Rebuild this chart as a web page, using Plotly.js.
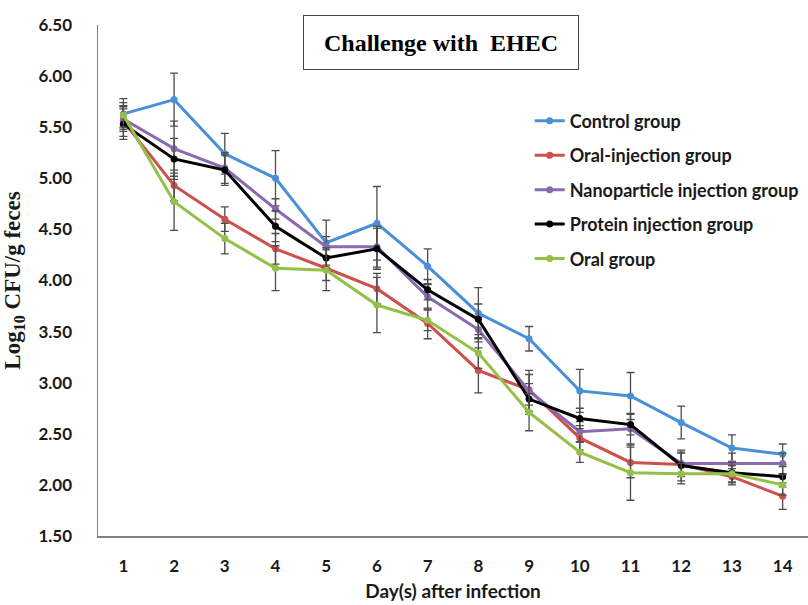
<!DOCTYPE html>
<html>
<head>
<meta charset="utf-8">
<script src="https://cdn.plot.ly/plotly-3.0.1.min.js"></script>
<style>html,body{margin:0;padding:0;background:#fff;}#chart{width:808px;height:605px;}</style>
</head>
<body>
<div id="chart"></div>
<script>
const days = [1,2,3,4,5,6,7,8,9,10,11,12,13,14];
const seriesNames = ["Control group","Oral-injection group","Nanoparticle injection group","Protein injection group","Oral group"];
const controlVals = [5.63,5.77,5.24,5.00,4.37,4.56,4.14,3.68,3.43,2.92,2.87,2.61,2.36,2.30];
const controlErr  = [0.15,0.26,0.20,0.27,0.22,0.36,0.17,0.25,0.12,0.21,0.23,0.16,0.13,0.10];
const oralInjVals = [5.56,4.93,4.60,4.31,4.12,3.92,3.58,3.12,2.93,2.46,2.22,2.20,2.08,1.89];
const oralInjErr  = [0.15,0.15,0.12,0.15,0.12,0.15,0.15,0.22,0.15,0.12,0.15,0.12,0.08,0.13];
const nanoVals    = [5.58,5.29,5.10,4.70,4.33,4.33,3.84,3.52,2.92,2.52,2.55,2.21,2.21,2.21];
const nanoErr     = [0.12,0.27,0.15,0.10,0.10,0.20,0.12,0.12,0.20,0.10,0.15,0.10,0.10,0.10];
const proteinVals = [5.53,5.19,5.08,4.53,4.22,4.31,3.91,3.62,2.84,2.65,2.59,2.19,2.12,2.08];
const proteinErr  = [0.15,0.20,0.15,0.15,0.10,0.20,0.10,0.15,0.15,0.10,0.10,0.15,0.10,0.10];
const oralVals    = [5.62,4.77,4.41,4.12,4.10,3.76,3.61,3.29,2.71,2.32,2.12,2.11,2.11,2.00];
const oralErr     = [0.12,0.28,0.15,0.22,0.20,0.27,0.10,0.15,0.18,0.10,0.27,0.10,0.08,0.10];
const yTicks = [1.5,2.0,2.5,3.0,3.5,4.0,4.5,5.0,5.5,6.0,6.5];

const colors = ["#4A8FD8","#CF4F4C","#8A6AAF","#000000","#93C047"];
const valsList = [controlVals,oralInjVals,nanoVals,proteinVals,oralVals];
const errList = [controlErr,oralInjErr,nanoErr,proteinErr,oralErr];

const traces = seriesNames.map((name,i)=>({
  type:'scatter', mode:'lines+markers', name:name,
  x:days, y:valsList[i],
  legendgroup:'g'+i,
  line:{color:colors[i], width:3},
  marker:{color:colors[i], size:7, symbol:'circle'},
  error_y:{type:'data', array:errList[i], visible:true, color:'#4d4d4d', thickness:1.3, width:4}
}));

const layout = {
  width:808, height:605,
  margin:{l:98, r:0, t:25, b:69},
  paper_bgcolor:'#fff', plot_bgcolor:'#fff',
  font:{family:'Lato, sans-serif', color:'#1a1a1a'},
  showlegend:true,
  legend:{x:0.608, xanchor:'left', y:0.848, yanchor:'top', traceorder:'grouped', tracegroupgap:8,
    font:{family:'Lato, sans-serif', size:18, weight:'bold', color:'#1a1a1a'}, bgcolor:'rgba(0,0,0,0)', itemwidth:30},
  xaxis:{range:[0.5,14.5], tickvals:days, ticktext:days.map(String), showgrid:false, zeroline:false,
    showline:true, linecolor:'#808080', linewidth:1.5, ticks:'', ticklabelstandoff:14,
    tickfont:{family:'Lato, sans-serif', size:17, weight:'bold', color:'#1a1a1a'},
    title:{text:'Day(s) after infection', standoff:10, font:{family:'Lato, sans-serif', size:19, weight:'bold', color:'#1a1a1a'}}},
  yaxis:{range:[1.5,6.5], tickvals:yTicks, ticktext:yTicks.map(v=>v.toFixed(2)), showgrid:false, zeroline:false,
    showline:true, linecolor:'#808080', linewidth:1.5, ticks:'', ticklabelstandoff:21,
    tickfont:{family:'Lato, sans-serif', size:17, weight:'bold', color:'#1a1a1a'},
    title:{text:'Log<sub>10</sub> CFU/g feces', standoff:12, font:{family:'Liberation Serif, serif', size:23, weight:'bold', color:'#1a1a1a'}}},
  annotations:[{
    text:'Challenge with  EHEC', xref:'paper', yref:'paper', x:0.483, y:0.965, xanchor:'center', yanchor:'middle',
    showarrow:false, font:{family:'Liberation Serif, serif', size:24, weight:'bold', color:'#000'},
    bordercolor:'#444', borderwidth:1, width:272, height:51, bgcolor:'#fff'
  }]
};
Plotly.newPlot('chart', traces, layout, {displayModeBar:false, staticPlot:true});
</script>
</body>
</html>
